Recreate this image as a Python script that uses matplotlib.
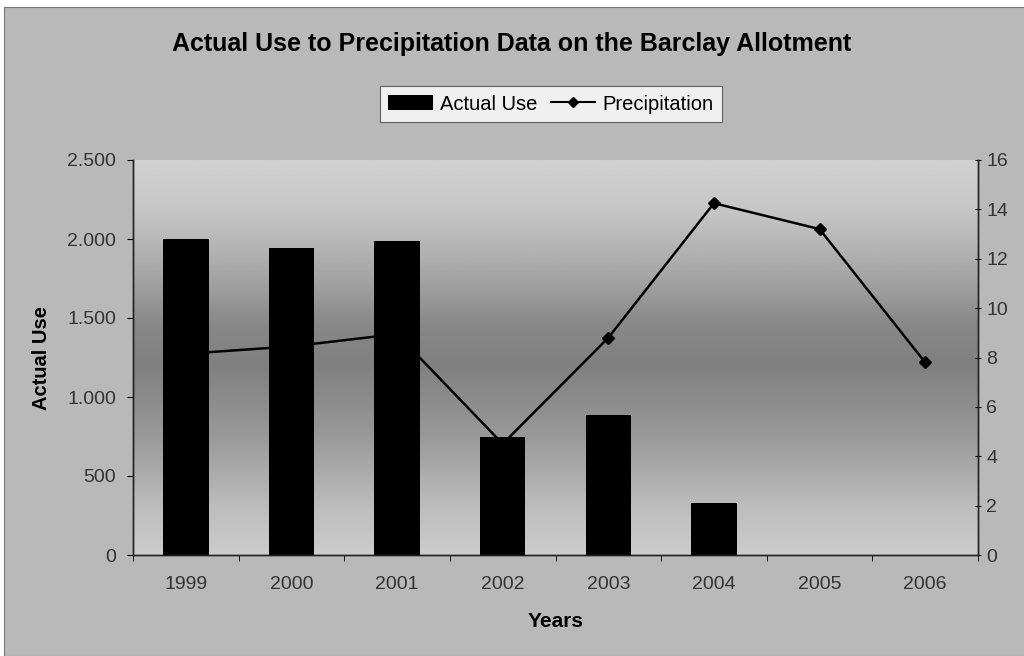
import numpy as np
import matplotlib.pyplot as plt
from matplotlib.patches import Rectangle
from matplotlib.lines import Line2D
from matplotlib.ticker import FuncFormatter

years = ['1999', '2000', '2001', '2002', '2003', '2004', '2005', '2006']
actual_use = [2000, 1940, 1985, 750, 885, 330, 0, 0]
precipitation = [8.15, 8.45, 8.95, 4.5, 8.8, 14.25, 13.2, 7.8]

plt.rcParams['font.family'] = ['Liberation Sans', 'DejaVu Sans']

fig = plt.figure(figsize=(10.24, 6.56), dpi=100)
fig.patch.set_facecolor('white')
# grey chart area with a thin white margin at top/left
fig.patches.append(Rectangle((4 / 1024, 0), 1, 1 - 7 / 656, transform=fig.transFigure,
                             facecolor='#b9b9b9', edgecolor='#777777', lw=0.8, zorder=-10))

rect = [133 / 1024, 101 / 656, 845 / 1024, 395 / 656]

# shaded plot background: light at top and bottom, dark band in the middle
bg = fig.add_axes(rect, zorder=0)
stops_y = [0.0, 0.12, 0.30, 0.48, 0.58, 0.72, 0.88, 1.0]
stops_v = [0.80, 0.74, 0.60, 0.50, 0.53, 0.66, 0.78, 0.82]
yy = np.linspace(0, 1, 300)
shade = np.interp(yy, stops_y, stops_v)[::-1].reshape(-1, 1)
bg.imshow(np.repeat(shade, 10, axis=1), cmap='gray', vmin=0, vmax=1,
          aspect='auto', extent=[0, 1, 0, 1])
bg.axis('off')

ax = fig.add_axes(rect, zorder=2)
ax2 = ax.twinx()
ax2.set_zorder(1)
ax.patch.set_visible(False)
ax2.patch.set_visible(False)

x = np.arange(len(years))
ax.bar(x, actual_use, width=0.43, color='black', edgecolor='none')
ax2.plot(x, precipitation, color='black', lw=1.8, marker='D', markersize=6)

ax.set_xlim(-0.5, len(years) - 0.5)
ax.set_ylim(0, 2500)
ax2.set_ylim(0, 16)
ax.set_yticks(range(0, 2501, 500))
ax.yaxis.set_major_formatter(FuncFormatter(lambda v, p: f'{int(v):,}'.replace(',', '.')))
ax2.set_yticks(range(0, 17, 2))

ax.set_xticks(x)
ax.set_xticklabels(years)
ax.set_xticks(np.arange(-0.5, len(years)), minor=True)
ax.tick_params(axis='x', which='major', length=0, pad=15, labelsize=14, labelcolor='#333333')
ax.tick_params(axis='x', which='minor', length=4, direction='out')
ax.tick_params(axis='y', length=4, direction='out', labelsize=14, labelcolor='#333333', pad=8)
ax2.tick_params(axis='y', length=4, direction='inout', labelsize=14, labelcolor='#333333', pad=4)

for a in (ax, ax2):
    a.spines['top'].set_visible(False)
    for s in ('left', 'right', 'bottom'):
        a.spines[s].set_color('#222222')
        a.spines[s].set_linewidth(1.0)

ax.set_xlabel('Years', fontsize=15, fontweight='bold', labelpad=14)
ax.set_ylabel('Actual Use', fontsize=14.5, fontweight='bold', labelpad=12)

fig.text(512 / 1024, 1 - 44 / 656, 'Actual Use to Precipitation Data on the Barclay Allotment',
         ha='center', va='center', fontsize=18, fontweight='bold')

handles = [Rectangle((0, 0), 1, 1, facecolor='black', edgecolor='none'),
           Line2D([], [], color='black', lw=1.5, marker='D', markersize=5)]
leg = fig.legend(handles, ['Actual Use', 'Precipitation'], loc='center', ncol=2,
                 bbox_to_anchor=(551 / 1024, 1 - 104 / 656), fontsize=14.5,
                 frameon=True, fancybox=False, handlelength=2.2, handletextpad=0.35,
                 columnspacing=0.7, borderpad=0.4)
leg.get_frame().set_facecolor('white')
leg.get_frame().set_edgecolor('#444444')
leg.get_frame().set_linewidth(0.8)

fig.savefig('out.png', dpi=100)
